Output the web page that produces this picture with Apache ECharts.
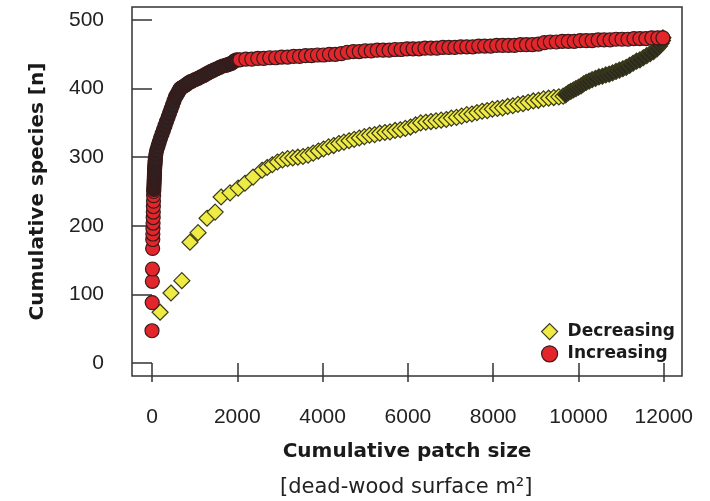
<!DOCTYPE html>
<html><head><meta charset="utf-8">
<script src="https://cdn.jsdelivr.net/npm/echarts@6/dist/echarts.min.js"></script>
<style>html,body{margin:0;padding:0;background:#fff}#c{width:710px;height:501px}</style>
</head><body><div id="c"></div>
<script>
const xTicks = [0, 2000, 4000, 6000, 8000, 10000, 12000];
const yTicks = [0, 100, 200, 300, 400, 500];
const seriesNames = ['Decreasing', 'Increasing'];

// Decreasing (largest patches first)
const decX = [190,445,700,890,1080,1290,1480,1620,1830,2020,2180,2370,2580,
 2700,2820,2940,3060,3180,3300,3420,3540,3660,3780,3900,4020,4140,4260,4380,4500,4620,4740,4860,4980,
 5100,5220,5340,5460,5580,5700,5820,5940,6060,6180,6300,6420,6540,6660,6780,6900,7020,7140,7260,7380,
 7500,7620,7740,7860,7980,8100,8220,8340,8460,8580,8700,8820,8940,9060,9180,9300,9420,9540,9640,
 9700,9760,9820,9880,9940,10000,10060,10120,10180,10250,10320,10400,10480,10560,10640,10720,10800,
 10880,10960,11040,11120,11200,11280,11360,11440,11520,11600,11680,11760,11840,11900,11940,11970,11980];
const decY = [74,102,120,176,190,211,220,242,248,255,262,271,281,
 285,289,293,296,298,299,300,301,303,306,309,312,315,317,320,322,324,326,328,330,
 332,333,335,336,337,339,340,342,344,347,350,351,352,353,354,355,357,358,360,362,
 363,365,367,368,370,371,372,374,375,377,378,380,382,383,385,386,387,388,389,
 391,394,396,398,400,402,404,407,409,411,413,415,417,418,420,421,423,
 425,427,429,431,434,437,440,442,445,448,451,454,458,462,466,470,474];

// Increasing (smallest patches first)
const incX = [0,5,8,10,15,18,20,22,25,28,30,32,35,38,40,
 42,44,46,48,50,52,54,56,58,60,62,65,68,72,76,80,90,110,140,170,200,235,270,305,340,375,410,445,480,515,550,580,610,635,660,710,760,805,850,895,940,1010,1080,1145,1210,1265,1320,1385,1450,1520,1590,1660,1730,1780,1830,1870,1910,1950,1990,
 2060,2200,2340,2480,2620,2760,2900,3040,3180,3320,3460,3600,3740,3880,4020,4160,4300,4440,4580,4720,4860,
 5000,5140,5280,5420,5560,5700,5840,5980,6120,6260,6400,6540,6680,6820,6960,7100,7240,7380,7520,7660,7800,7940,
 8080,8220,8360,8500,8640,8780,8920,9060,9200,9340,9480,9620,9760,9900,10040,10180,10320,10460,10600,10740,10880,
 11020,11160,11300,11440,11580,11720,11860,11980];
const incY = [47,88,119,137,167,180,188,196,204,212,220,228,236,244,250,
 253,256,259,262,265,268,271,274,277,280,283,286,289,292,295,298,304,310,316,322,328,334,340,346,352,358,364,370,376,382,388,391,394,397,400,402,404,406,408,410,411,413,415,417,419,421,423,425,427,429,431,433,434,435,436,437,439,441,442,
 442,443,443,444,444,445,445,446,446,447,447,448,448,449,449,450,450,451,453,454,454,
 455,455,456,456,456,457,457,458,458,458,459,459,459,460,460,460,461,461,461,462,462,462,
 463,463,463,463,464,464,464,465,467,468,468,469,469,469,470,470,470,471,471,471,472,
 472,472,473,473,473,474,474,474];

const decData = decX.map((x, i) => [x, decY[i]]);
const incData = incX.map((x, i) => [x, incY[i]]);

const RED = '#e3262b', YEL = '#efeb45', DARK_R = '#2e2322', DARK_Y = '#2c2a20';
const FONT = 'DejaVu Sans';
const TICKFONT = 'Liberation Sans';
const chart = echarts.init(document.getElementById('c'));
chart.setOption({
  animation: false,
  backgroundColor: '#fff',
  grid: { left: 132, right: 28, top: 7, bottom: 125, show: true, borderColor: '#333', borderWidth: 1.5, backgroundColor: 'transparent' },
  xAxis: {
    type: 'value', min: -469, max: 12427,
    name: 'Cumulative patch size', nameLocation: 'middle', nameGap: 66,
    nameTextStyle: { fontFamily: FONT, fontWeight: 'bold', fontSize: 20, color: '#1a1a1a' },
    axisLine: { show: false },
    axisTick: { show: true, customValues: xTicks, length: 19, inside: false, lineStyle: { color: '#333', width: 1.5 } },
    axisLabel: { customValues: xTicks, formatter: v => String(v), fontFamily: TICKFONT, fontSize: 21, color: '#222', margin: 31, showMinLabel: true, showMaxLabel: true },
    splitLine: { show: false }
  },
  yAxis: {
    type: 'value', min: -19, max: 519,
    name: 'Cumulative species [n]', nameLocation: 'middle', nameGap: 84,
    nameTextStyle: { fontFamily: FONT, fontWeight: 'bold', fontSize: 20, color: '#1a1a1a' },
    axisLine: { show: false },
    axisTick: { show: true, customValues: yTicks, length: 20, lineStyle: { color: '#333', width: 1.5 } },
    axisLabel: { customValues: yTicks, formatter: v => String(v), fontFamily: TICKFONT, fontSize: 21, color: '#222', margin: 28 },
    splitLine: { show: false }
  },
  legend: {
    orient: 'vertical', left: 536, top: 318, itemWidth: 16, itemHeight: 16, itemGap: 5,
    textStyle: { fontFamily: FONT, fontWeight: 'bold', fontSize: 17, color: '#1a1a1a', padding: [0,0,0,5] },
    data: [
      { name: seriesNames[0], icon: 'diamond', itemStyle: { color: YEL, borderColor: '#3a3a1a', borderWidth: 1.2 } },
      { name: seriesNames[1], icon: 'circle', itemStyle: { color: RED, borderColor: '#3a1a1a', borderWidth: 1.2 } }
    ]
  },
  graphic: [{
    type: 'text', left: 280, top: 477,
    style: { text: '[dead-wood surface m²]', font: '21px "DejaVu Sans"', fill: '#222' }
  }],
  series: [
    { name: seriesNames[0], type: 'scatter', data: decData, symbol: 'diamond', symbolSize: 16,
      itemStyle: { color: p => p.value[0] > 9650 ? DARK_Y : YEL, borderColor: '#3a3a1a', borderWidth: 1.2, opacity: 1 } },
    { name: seriesNames[1], type: 'scatter', data: incData, symbol: 'circle', symbolSize: 14,
      itemStyle: { color: p => (p.value[1] > 250 && p.value[0] < 2020) ? DARK_R : RED, borderColor: '#3a1a1a', borderWidth: 1.2, opacity: 1 } }
  ]
});
</script>
</body></html>
